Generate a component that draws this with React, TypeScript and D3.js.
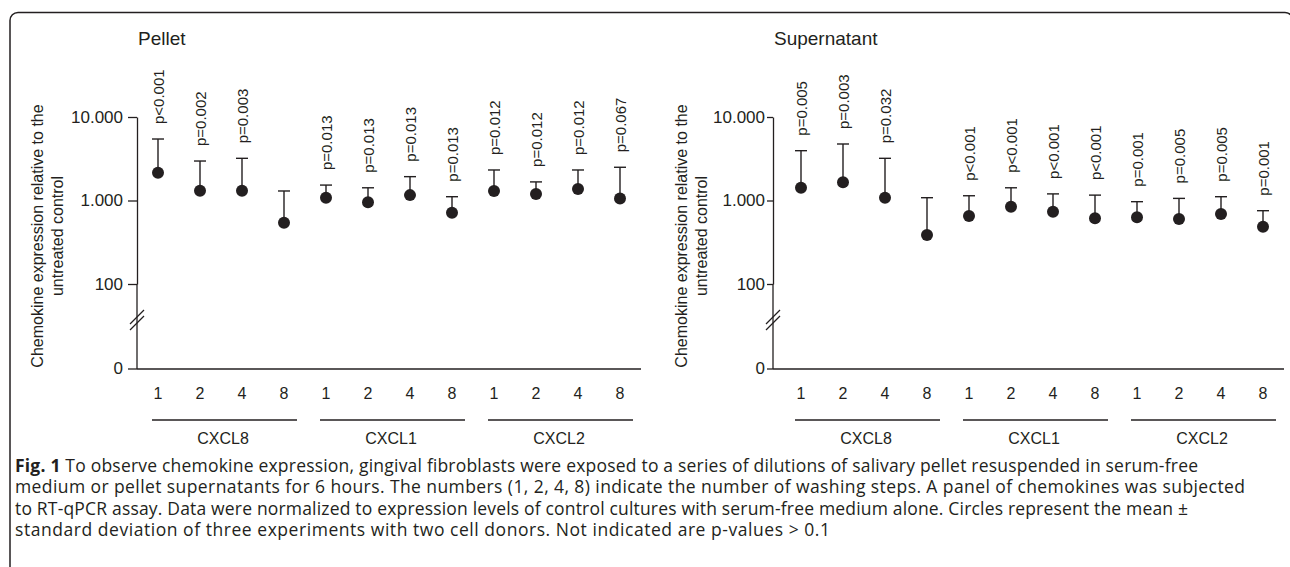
import React, { useEffect, useRef } from "react";
import * as d3 from "d3";

const genes = ["CXCL8", "CXCL1", "CXCL2"];
const washSteps = ["1", "2", "4", "8"];

// Pellet panel: mean and mean + SD, in order CXCL8 1..8, CXCL1 1..8, CXCL2 1..8
const pelletMean = [2150, 1310, 1310, 542, 1080, 950, 1160, 714, 1300, 1200, 1370, 1060];
const pelletUpper = [5450, 2970, 3200, 1300, 1530, 1420, 1930, 1110, 2320, 1670, 2320, 2500];
const pelletP = [
  "p<0.001", "p=0.002", "p=0.003", "",
  "p=0.013", "p=0.013", "p=0.013", "p=0.013",
  "p=0.012", "p=0.012", "p=0.012", "p=0.067",
];

// Supernatant panel
const supMean = [1420, 1650, 1080, 386, 652, 843, 734, 612, 629, 600, 689, 486];
const supUpper = [3950, 4750, 3200, 1080, 1140, 1420, 1200, 1160, 968, 1060, 1110, 755];
const supP = [
  "p=0.005", "p=0.003", "p=0.032", "",
  "p<0.001", "p<0.001", "p<0.001", "p<0.001",
  "p=0.001", "p=0.005", "p=0.005", "p=0.001",
];

const yTicks = [100, 1000, 10000];
const yTitle = ["Chemokine expression relative to the", "untreated control"];

const captionLines = [
  " To observe chemokine expression, gingival fibroblasts were exposed to a series of dilutions of salivary pellet resuspended in serum-free",
  "medium or pellet supernatants for 6 hours. The numbers (1, 2, 4, 8) indicate the number of washing steps. A panel of chemokines was subjected",
  "to RT-qPCR assay. Data were normalized to expression levels of control cultures with serum-free medium alone. Circles represent the mean \u00b1",
  "standard deviation of three experiments with two cell donors. Not indicated are p-values > 0.1",
];
// measured line widths of the caption in the figure
const captionWidths = [1183, 1230, 1173, 815];

const INK = "#231f20";
const FONT = "'Liberation Sans', Arial, Helvetica, sans-serif";

const fmt = d3
  .formatLocale({ decimal: ",", thousands: ".", grouping: [3], currency: ["", ""] })
  .format(",");

interface PanelCfg {
  title: string;
  axisX: number;
  bandStart: number;
  bandEnd: number;
  mean: number[];
  upper: number[];
  p: string[];
  tickSize: number;
  tickPad: number;
  titleX: [number, number];
}

const drawPanel = (svg: any, cfg: PanelCfg) => {
  const zeroY = 369;
  const breakY = 320;
  const keys = d3.cross(genes, washSteps).map(([g, s]) => `${g}-${s}`);
  const x = d3.scaleBand().domain(keys).range([cfg.bandStart, cfg.bandEnd]);
  const y = d3.scaleLog().domain([100, 10000]).range([284, 117]);
  const cx = (i: number) => x(keys[i])! + x.bandwidth() / 2;

  const g = svg.append("g").attr("font-family", FONT).attr("fill", INK);

  // title
  g.append("text")
    .attr("x", cfg.axisX + 1)
    .attr("y", 38)
    .attr("dy", "0.35em")
    .style("font-size", "19px")
    .text(cfg.title);

  // y axis title
  yTitle.forEach((t, i) => {
    g.append("text")
      .attr("transform", `translate(${cfg.titleX[i]},236) rotate(-90)`)
      .attr("text-anchor", "middle")
      .attr("dy", "0.35em")
      .style("font-size", "16px")
      .text(t);
  });

  // y axis (log part)
  const ax = g
    .append("g")
    .attr("transform", `translate(${cfg.axisX},0)`)
    .call(
      d3.axisLeft(y).tickValues(yTicks).tickFormat((d: any) => fmt(d)).tickSize(cfg.tickSize).tickSizeOuter(0).tickPadding(cfg.tickPad)
    );
  ax.selectAll("path, line").attr("stroke", INK).attr("stroke-width", 1.3);
  ax.selectAll("text").attr("fill", INK).style("font-size", "17px").style("font-family", FONT);

  // lower part of axis down to zero
  g.append("line")
    .attr("x1", cfg.axisX).attr("x2", cfg.axisX)
    .attr("y1", y(100)).attr("y2", zeroY)
    .attr("stroke", INK).attr("stroke-width", 1.3);
  g.append("line")
    .attr("x1", cfg.axisX - cfg.tickSize).attr("x2", cfg.axisX)
    .attr("y1", zeroY).attr("y2", zeroY)
    .attr("stroke", INK).attr("stroke-width", 1.3);
  g.append("text")
    .attr("x", cfg.axisX - cfg.tickSize - cfg.tickPad)
    .attr("y", zeroY)
    .attr("dy", "0.32em")
    .attr("text-anchor", "end")
    .style("font-size", "17px")
    .text("0");

  // break marks
  [-3, 3].forEach((o) => {
    g.append("line")
      .attr("x1", cfg.axisX - 7).attr("y1", breakY + o + 7)
      .attr("x2", cfg.axisX + 7).attr("y2", breakY + o - 7)
      .attr("stroke", INK).attr("stroke-width", 1.2);
  });

  // x axis line
  g.append("line")
    .attr("x1", cfg.axisX).attr("x2", cfg.bandEnd)
    .attr("y1", zeroY).attr("y2", zeroY)
    .attr("stroke", INK).attr("stroke-width", 1.3);

  // x tick labels
  keys.forEach((k, i) => {
    g.append("text")
      .attr("x", cx(i))
      .attr("y", 393)
      .attr("dy", "0.35em")
      .attr("text-anchor", "middle")
      .style("font-size", "16px")
      .text(washSteps[i % washSteps.length]);
  });

  // gene groups
  genes.forEach((gene, gi) => {
    const first = cx(gi * 4);
    const last = cx(gi * 4 + 3);
    g.append("line")
      .attr("x1", first - 6).attr("x2", last + 13)
      .attr("y1", 420).attr("y2", 420)
      .attr("stroke", INK).attr("stroke-width", 1.3);
    g.append("text")
      .attr("x", (first + last) / 2 + 2)
      .attr("y", 438)
      .attr("dy", "0.35em")
      .attr("text-anchor", "middle")
      .style("font-size", "16px")
      .text(gene);
  });

  // error bars, points, p-values
  const pts = g
    .selectAll(".pt")
    .data(cfg.mean.map((m, i) => ({ m, u: cfg.upper[i], p: cfg.p[i], i })))
    .enter()
    .append("g")
    .attr("class", "pt");

  pts.append("line")
    .attr("x1", (d: any) => cx(d.i)).attr("x2", (d: any) => cx(d.i))
    .attr("y1", (d: any) => y(d.m)).attr("y2", (d: any) => y(d.u))
    .attr("stroke", INK).attr("stroke-width", 1.4);
  pts.append("line")
    .attr("x1", (d: any) => cx(d.i) - 6).attr("x2", (d: any) => cx(d.i) + 6)
    .attr("y1", (d: any) => y(d.u)).attr("y2", (d: any) => y(d.u))
    .attr("stroke", INK).attr("stroke-width", 1.4);
  pts.append("circle")
    .attr("cx", (d: any) => cx(d.i))
    .attr("cy", (d: any) => y(d.m))
    .attr("r", 6)
    .attr("fill", INK);
  pts.append("text")
    .attr("transform", (d: any) => `translate(${cx(d.i) + 1},${y(d.u) - 15}) rotate(-90)`)
    .attr("dy", "0.35em")
    .style("font-size", "15px")
    .text((d: any) => d.p);
};

export default function App() {
  const ref = useRef<SVGSVGElement>(null);

  useEffect(() => {
    const svg = d3.select(ref.current);
    svg.selectAll("*").remove();

    svg.append("rect").attr("width", 1290).attr("height", 567).attr("fill", "#fff");

    // frame
    svg.append("rect")
      .attr("x", 10).attr("y", 12.5)
      .attr("width", 1283).attr("height", 600)
      .attr("rx", 8)
      .attr("fill", "none")
      .attr("stroke", INK)
      .attr("stroke-width", 1.5);

    drawPanel(svg, {
      title: "Pellet",
      axisX: 137,
      bandStart: 137,
      bandEnd: 641,
      mean: pelletMean,
      upper: pelletUpper,
      p: pelletP,
      tickSize: 9,
      tickPad: 5,
      titleX: [37, 57],
    });
    drawPanel(svg, {
      title: "Supernatant",
      axisX: 773,
      bandStart: 780,
      bandEnd: 1284,
      mean: supMean,
      upper: supUpper,
      p: supP,
      tickSize: 6,
      tickPad: 2,
      titleX: [681, 701],
    });

    // caption
    const cap = svg.append("g")
      .attr("font-family", "'Open Sans', 'Noto Sans', sans-serif")
      .attr("fill", INK)
      .style("font-size", "17.5px");
    captionLines.forEach((line, i) => {
      const t = cap.append("text")
        .attr("x", 15)
        .attr("y", 472 + i * 21.3)
        .attr("textLength", captionWidths[i])
        .attr("lengthAdjust", "spacing");
      if (i === 0) t.append("tspan").attr("font-weight", "bold").text("Fig. 1");
      t.append("tspan").text(line);
    });
  }, []);

  return (
    <svg
      ref={ref}
      width={1290}
      height={567}
      style={{ position: "absolute", left: 0, top: 0, display: "block" }}
    />
  );
}
